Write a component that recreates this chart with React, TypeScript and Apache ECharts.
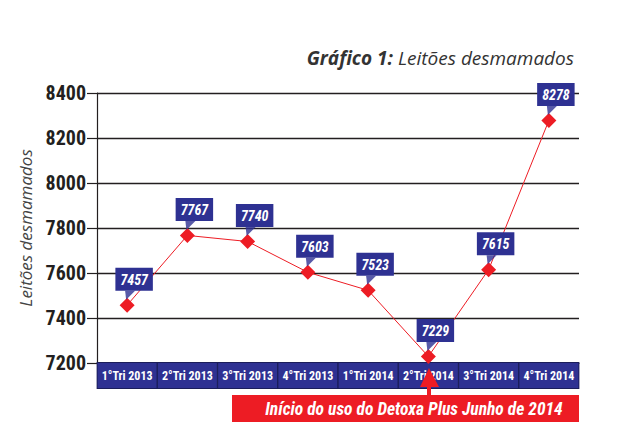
import React, { useEffect, useRef } from "react";
import * as echarts from "echarts";

const categories = ["1°Tri 2013", "2°Tri 2013", "3°Tri 2013", "4°Tri 2013", "1°Tri 2014", "2°Tri 2014", "3°Tri 2014", "4°Tri 2014"];
const values = [7457, 7767, 7740, 7603, 7523, 7229, 7615, 8278];
const yTicks = { min: 7200, max: 8400, interval: 200 };
const titleBold = "Gráfico 1:";
const titleRest = "Leitões desmamados";
const yName = "Leitões desmamados";
const noteText = "Início do uso do Detoxa Plus Junho de 2014";

const NARROW = "Roboto Condensed";
const HUMAN = "Open Sans";
const BLUE = "#2E3192";
const RED = "#ED1C24";

export default function App() {
  const ref = useRef<HTMLDivElement>(null);
  useEffect(() => {
    document.body.style.margin = "0";
    const chart = echarts.init(ref.current!, null, { renderer: "svg" });
    chart.setOption({
      animation: false,
      backgroundColor: "#fff",
      title: {
        text: `{b|${titleBold}} {i|${titleRest}}`,
        right: 58,
        top: 43,
        textStyle: {
          rich: {
            b: { fontFamily: HUMAN, fontSize: 19, fontStyle: "italic", fontWeight: "bold", color: "#333" },
            i: { fontFamily: HUMAN, fontSize: 19, fontStyle: "italic", fontWeight: "normal", color: "#333" },
          },
        },
      },
      grid: { left: 97, right: 58, top: 93, bottom: 77 },
      xAxis: {
        type: "category",
        data: categories,
        boundaryGap: true,
        axisLine: { show: true, lineStyle: { color: "#231F20", width: 1 } },
        axisTick: { show: false },
        axisLabel: {
          interval: 0,
          margin: 0,
          color: "#fff",
          fontFamily: NARROW,
          fontWeight: "bold",
          fontSize: 12,
          width: 59,
          height: 25,
          lineHeight: 25,
          align: "center",
          verticalAlign: "top",
          backgroundColor: BLUE,
          borderColor: "#1b1d5a",
          borderWidth: 1,
        },
      },
      yAxis: {
        type: "value",
        min: yTicks.min,
        max: yTicks.max,
        interval: yTicks.interval,
        name: yName,
        nameLocation: "middle",
        nameRotate: 90,
        nameGap: 63,
        nameTextStyle: { fontFamily: HUMAN, fontStyle: "italic", fontSize: 17, color: "#444" },
        axisLine: { show: true, lineStyle: { color: "#231F20", width: 1.2 } },
        axisTick: { show: true, length: 10, lineStyle: { color: "#231F20", width: 1.2 } },
        axisLabel: {
          margin: 11,
          color: "#231F20",
          fontFamily: NARROW,
          fontWeight: "bold",
          fontSize: 20,
          formatter: (v: number) => String(v),
        },
        splitLine: { show: true, lineStyle: { color: "#231F20", width: 1.3 } },
      },
      series: [
        {
          type: "line",
          data: values,
          symbol: "diamond",
          symbolSize: 15,
          lineStyle: { color: RED, width: 1 },
          itemStyle: { color: RED },
          z: 3,
          label: {
            show: true,
            position: "top",
            distance: 7,
            offset: [7, 0],
            color: "#fff",
            fontFamily: NARROW,
            fontWeight: "bold",
            fontStyle: "italic",
            fontSize: 14,
            backgroundColor: BLUE,
            padding: [5, 5, 4, 5],
          },
        },
        {
          type: "scatter",
          data: values,
          symbol: "path://M0,0L10,0L1,9Z",
          symbolSize: [10, 9],
          symbolOffset: [3, -10],
          itemStyle: { color: BLUE },
          silent: true,
          z: 4,
        },
      ],
      graphic: [
        { type: "polygon", shape: { points: [[429, 368], [420, 387], [439, 387]] }, style: { fill: RED }, z: 100 },
        { type: "rect", shape: { x: 427, y: 386, width: 4, height: 10 }, style: { fill: RED }, z: 100 },
        { type: "rect", shape: { x: 232, y: 395, width: 347, height: 27 }, style: { fill: RED }, z: 100 },
        {
          type: "text",
          x: 414,
          y: 408.5,
          style: {
            text: noteText,
            fill: "#fff",
            fontFamily: NARROW,
            fontWeight: "bold",
            fontStyle: "italic",
            fontSize: 17.5,
            align: "center",
            verticalAlign: "middle",
          },
          z: 101,
        },
      ],
    });
    return () => chart.dispose();
  }, []);
  return <div ref={ref} style={{ width: 637, height: 440 }} />;
}
